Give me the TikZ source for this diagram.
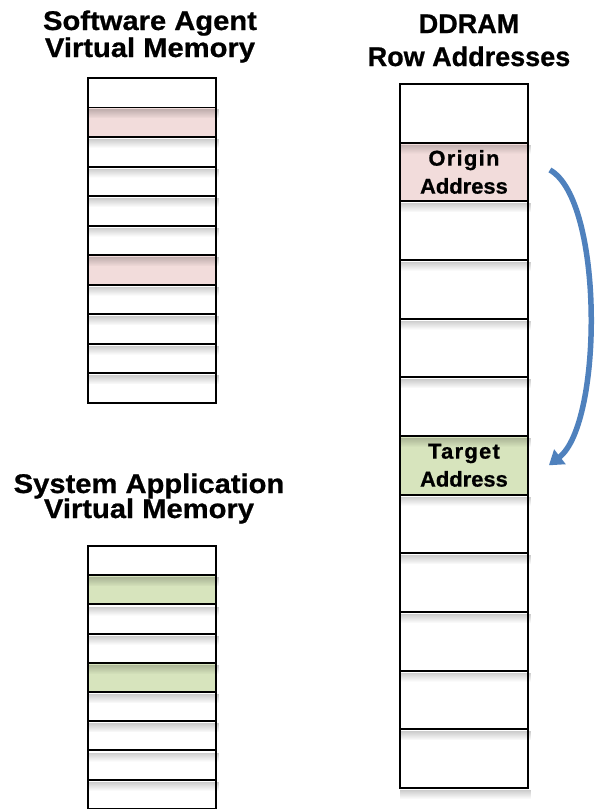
\documentclass[tikz,border=0pt]{standalone}
\usepackage{fontspec}
\setmainfont{Liberation Sans}
\newfontfamily\titlefont{Liberation Sans Bold}[FakeStretch=1.08,FakeBold=0.8]
\newfontfamily\titlefontR{Liberation Sans Bold}[FakeBold=0.8]
\newfontfamily\cellfont{Liberation Sans Bold}[FakeStretch=1.02,FakeBold=0.8]
\newfontfamily\cellfontS{Liberation Sans Bold}[FakeStretch=1.02,LetterSpace=6,FakeBold=0.8]
\usetikzlibrary{arrows.meta,fadings}
\definecolor{pinkc}{RGB}{242,220,219}
\definecolor{greenc}{RGB}{215,228,189}
\definecolor{arrowblue}{RGB}{79,129,189}
\tikzfading[name=shadowfade, top color=transparent!0, bottom color=transparent!100]
\tikzset{
  cellbox/.style={draw=black, line width=1.9pt, rectangle, inner sep=0pt,
    minimum width=128pt, anchor=north west},
  smallcell/.style={cellbox, minimum height=29.5pt},
  bigcell/.style={cellbox, minimum height=58.7pt, font=\cellfont\fontsize{21.5}{28}\selectfont, align=center},
  cellshadow/.style={fill=black, opacity=0.2, path fading=shadowfade},
  titleL/.style={font=\titlefont\fontsize{27}{29}\selectfont, anchor=base, inner sep=0pt},
  titleR/.style={font=\titlefontR\fontsize{27}{29}\selectfont, anchor=base, inner sep=0pt},
  movearrow/.style={draw=arrowblue, line width=5.5pt,
    -{Triangle[width=18pt,length=14pt]}},
}
\begin{document}
\begin{tikzpicture}[x=1pt,y=-1pt]
\useasboundingbox (0,0) rectangle (600,809);
\fill[white] (0,0) rectangle (600,809);

% titles
\node[titleL] (tSA1) at (150,30) {Software Agent};
\node[titleL] (tSA2) at (150,57) {Virtual Memory};
\node[titleR] (tDD1) at (469,33) {DDRAM};
\node[titleR] (tDD2) at (469,66) {Row Addresses};
\node[titleL] (tSY1) at (149,493) {System Application};
\node[titleL] (tSY2) at (149,518) {Virtual Memory};

% software agent virtual memory
\foreach \i/\c in {1/white,2/pinkc,3/white,4/white,5/white,6/white,7/pinkc,8/white,9/white,10/white,11/white}{
  \node[smallcell, fill=\c] (sa\i) at (87,{77+(\i-1)*29.55}) {};
}
\foreach \i in {1,...,10}{
  \fill[cellshadow] ([xshift=1pt,yshift=-1pt]sa\i.south west) rectangle ([xshift=2pt,yshift=-10pt]sa\i.south east);
}

% system application virtual memory
\foreach \i/\c in {1/white,2/greenc,3/white,4/white,5/greenc,6/white,7/white,8/white,9/white}{
  \node[smallcell, fill=\c] (sy\i) at (87,{545+(\i-1)*29.2}) {};
}
\foreach \i in {1,...,8}{
  \fill[cellshadow] ([xshift=1pt,yshift=-1pt]sy\i.south west) rectangle ([xshift=2pt,yshift=-10pt]sy\i.south east);
}

% DDRAM rows
\node[bigcell] (dd1) at (399,83) {};
\node[bigcell, fill=pinkc] (origin) at (399,{83+58.67}) {{\cellfontS Origin}\\Address};
\node[bigcell] (dd3) at (399,{83+2*58.67}) {};
\node[bigcell] (dd4) at (399,{83+3*58.67}) {};
\node[bigcell] (dd5) at (399,{83+4*58.67}) {};
\node[bigcell] (dd6) at (399,{83+5*58.67}) {};
\node[bigcell, fill=greenc] (target) at (399,{83+6*58.67}) {{\cellfontS Target}\\Address};
\node[bigcell] (dd8) at (399,{83+7*58.67}) {};
\node[bigcell] (dd9) at (399,{83+8*58.67}) {};
\node[bigcell] (dd10) at (399,{83+9*58.67}) {};
\node[bigcell] (dd11) at (399,{83+10*58.67}) {};
\node[bigcell] (dd12) at (399,{83+11*58.67}) {};
\foreach \n in {dd1,origin,dd3,dd4,dd5,dd6,target,dd8,dd9,dd10,dd11,dd12}{
  \fill[cellshadow] ([xshift=1pt,yshift=-1pt]\n.south west) rectangle ([xshift=2pt,yshift=-10pt]\n.south east);
}

% copy arrow
\draw[movearrow] ([xshift=21pt,yshift=2pt]origin.east) .. controls +(54,30) and +(54,-42) .. ([xshift=20pt]target.east);
\end{tikzpicture}
\end{document}
